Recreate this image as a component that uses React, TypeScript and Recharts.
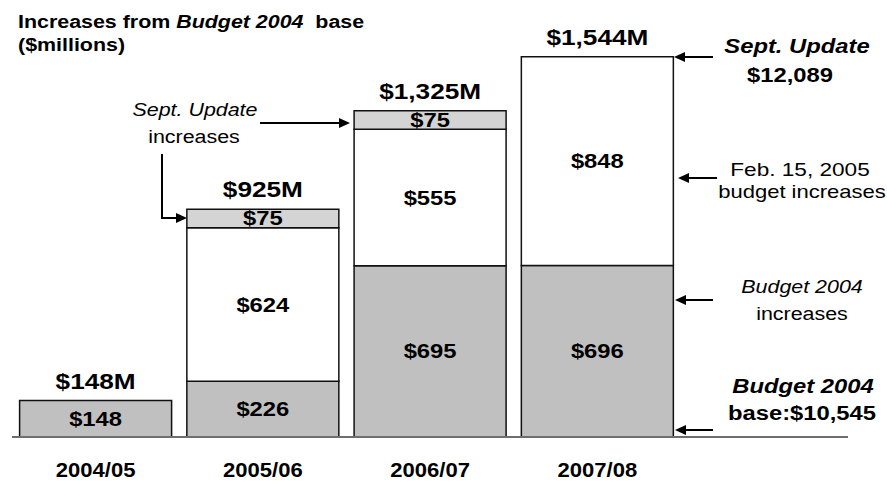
import React from "react";
import { ComposedChart, Bar, Line, XAxis, YAxis, LabelList } from "recharts";

// values ($ millions)
const years = ["2004/05", "2005/06", "2006/07", "2007/08"];
const budget2004Increases = [148, 226, 695, 696];
const feb2005Increases = [0, 624, 555, 848];
const septUpdateIncreases = [0, 75, 75, 0];

const data = years.map((year, i) => ({
  year,
  base: budget2004Increases[i],
  feb: feb2005Increases[i],
  sept: septUpdateIncreases[i],
  total: budget2004Increases[i] + feb2005Increases[i] + septUpdateIncreases[i],
}));

const W = 887;
const H = 481;
const FONT = "'Liberation Sans', Arial, Helvetica, sans-serif";
// the source slide is stretched sideways a bit
const SX = 1.19;

function SText({ x, y, size, bold, italic, anchor = "middle", sx = SX, children }: any) {
  return (
    <text
      transform={`translate(${x},${y}) scale(${sx},1)`}
      textAnchor={anchor}
      fontSize={size}
      fontWeight={bold ? 700 : 400}
      fontStyle={italic ? "italic" : "normal"}
      fontFamily={FONT}
      fill="#000"
      style={{ whiteSpace: "pre" }}
    >
      {children}
    </text>
  );
}

function box(props: any) {
  const vb = props.viewBox || props;
  const x = vb.x ?? props.x;
  const y = vb.y ?? props.y;
  const w = vb.width ?? props.width ?? 0;
  const h = vb.height ?? props.height ?? 0;
  return { x, y: Math.min(y, y + h), w, h: Math.abs(h) };
}

const segLabel = (props: any) => {
  const v = Number(props.value);
  if (!v) return null;
  const b = box(props);
  return (
    <SText key={`s-${props.index}-${b.x}-${b.y}`} x={b.x + b.w / 2} y={b.y + b.h / 2 + 7} size={20} bold>
      {`$${v}`}
    </SText>
  );
};

const totalLabel = (props: any) => {
  const x = props.x ?? props.viewBox?.x;
  const y = props.y ?? props.viewBox?.y;
  return (
    <SText key={`t-${props.index}`} x={x} y={y - 12} size={22} bold>
      {`$${Number(props.value).toLocaleString("en-US")}M`}
    </SText>
  );
};

const YearTick = (props: any) => (
  <SText x={props.x} y={477} size={21} bold sx={1.05}>
    {props.payload.value}
  </SText>
);

function Arrow({ pts }: { pts: number[][] }) {
  const [x1, y1] = pts[pts.length - 2];
  const [x2, y2] = pts[pts.length - 1];
  const a = Math.atan2(y2 - y1, x2 - x1);
  const L = 11;
  const Wd = 5;
  const bx = x2 - L * Math.cos(a);
  const by = y2 - L * Math.sin(a);
  const px = -Math.sin(a) * Wd;
  const py = Math.cos(a) * Wd;
  const line = pts.slice(0, -1).concat([[bx, by]]);
  return (
    <g>
      <polyline points={line.map((p) => p.join(",")).join(" ")} fill="none" stroke="#000" strokeWidth={2} />
      <polygon points={`${x2},${y2} ${bx + px},${by + py} ${bx - px},${by - py}`} fill="#000" />
    </g>
  );
}

function Notes() {
  return (
    <svg width={W} height={H} style={{ position: "absolute", left: 0, top: 0, pointerEvents: "none" }}>
      <SText x={18} y={28} size={18} bold anchor="start">
        Increases from <tspan fontStyle="italic">Budget 2004</tspan>{"  base"}
      </SText>
      <SText x={18} y={51} size={18} bold anchor="start">
        ($millions)
      </SText>

      <SText x={195} y={116} size={18} italic>Sept. Update</SText>
      <SText x={194} y={143} size={18}>increases</SText>
      <Arrow pts={[[260, 123], [350, 123]]} />
      <Arrow pts={[[162, 154], [162, 218], [187, 218]]} />

      <SText x={797} y={53} size={20} bold italic>Sept. Update</SText>
      <SText x={790} y={82} size={20} bold>$12,089</SText>
      <Arrow pts={[[713, 57], [674, 57]]} />

      <SText x={800} y={176} size={19}>Feb. 15, 2005</SText>
      <SText x={802} y={198} size={18.5}>budget increases</SText>
      <Arrow pts={[[717, 178], [678, 178]]} />

      <SText x={802} y={293} size={18} italic>Budget 2004</SText>
      <SText x={802} y={320} size={18}>increases</SText>
      <Arrow pts={[[713, 300], [675, 300]]} />

      <SText x={803} y={393} size={20} bold italic>Budget 2004</SText>
      <SText x={802} y={420} size={20} bold>base:$10,545</SText>
      <Arrow pts={[[713, 430], [675, 430]]} />
    </svg>
  );
}

export default function App() {
  return (
    <div style={{ position: "absolute", left: 0, top: 0, width: W, height: H, background: "#fff" }}>
      <ComposedChart
        width={W}
        height={H}
        data={data}
        margin={{ top: 43, right: 39, bottom: 0, left: 12 }}
        barCategoryGap={7.6}
      >
        <XAxis
          dataKey="year"
          height={44}
          padding={{ left: 0, right: 167 }}
          tickLine={false}
          axisLine={{ stroke: "#6e6e6e", strokeWidth: 2 }}
          tick={<YearTick />}
          interval={0}
        />
        <YAxis hide domain={[0, 1600]} />
        <Bar dataKey="base" stackId="a" fill="#c0c0c0" stroke="#111" strokeWidth={1.5} isAnimationActive={false}>
          <LabelList dataKey="base" content={segLabel} />
        </Bar>
        <Bar dataKey="feb" stackId="a" fill="#ffffff" stroke="#111" strokeWidth={1.5} isAnimationActive={false}>
          <LabelList dataKey="feb" content={segLabel} />
        </Bar>
        <Bar dataKey="sept" stackId="a" fill="#d4d4d4" stroke="#111" strokeWidth={1.5} isAnimationActive={false}>
          <LabelList dataKey="sept" content={segLabel} />
        </Bar>
        <Line dataKey="total" stroke="none" dot={false} activeDot={false} isAnimationActive={false}>
          <LabelList dataKey="total" content={totalLabel} />
        </Line>
      </ComposedChart>
      <Notes />
    </div>
  );
}
